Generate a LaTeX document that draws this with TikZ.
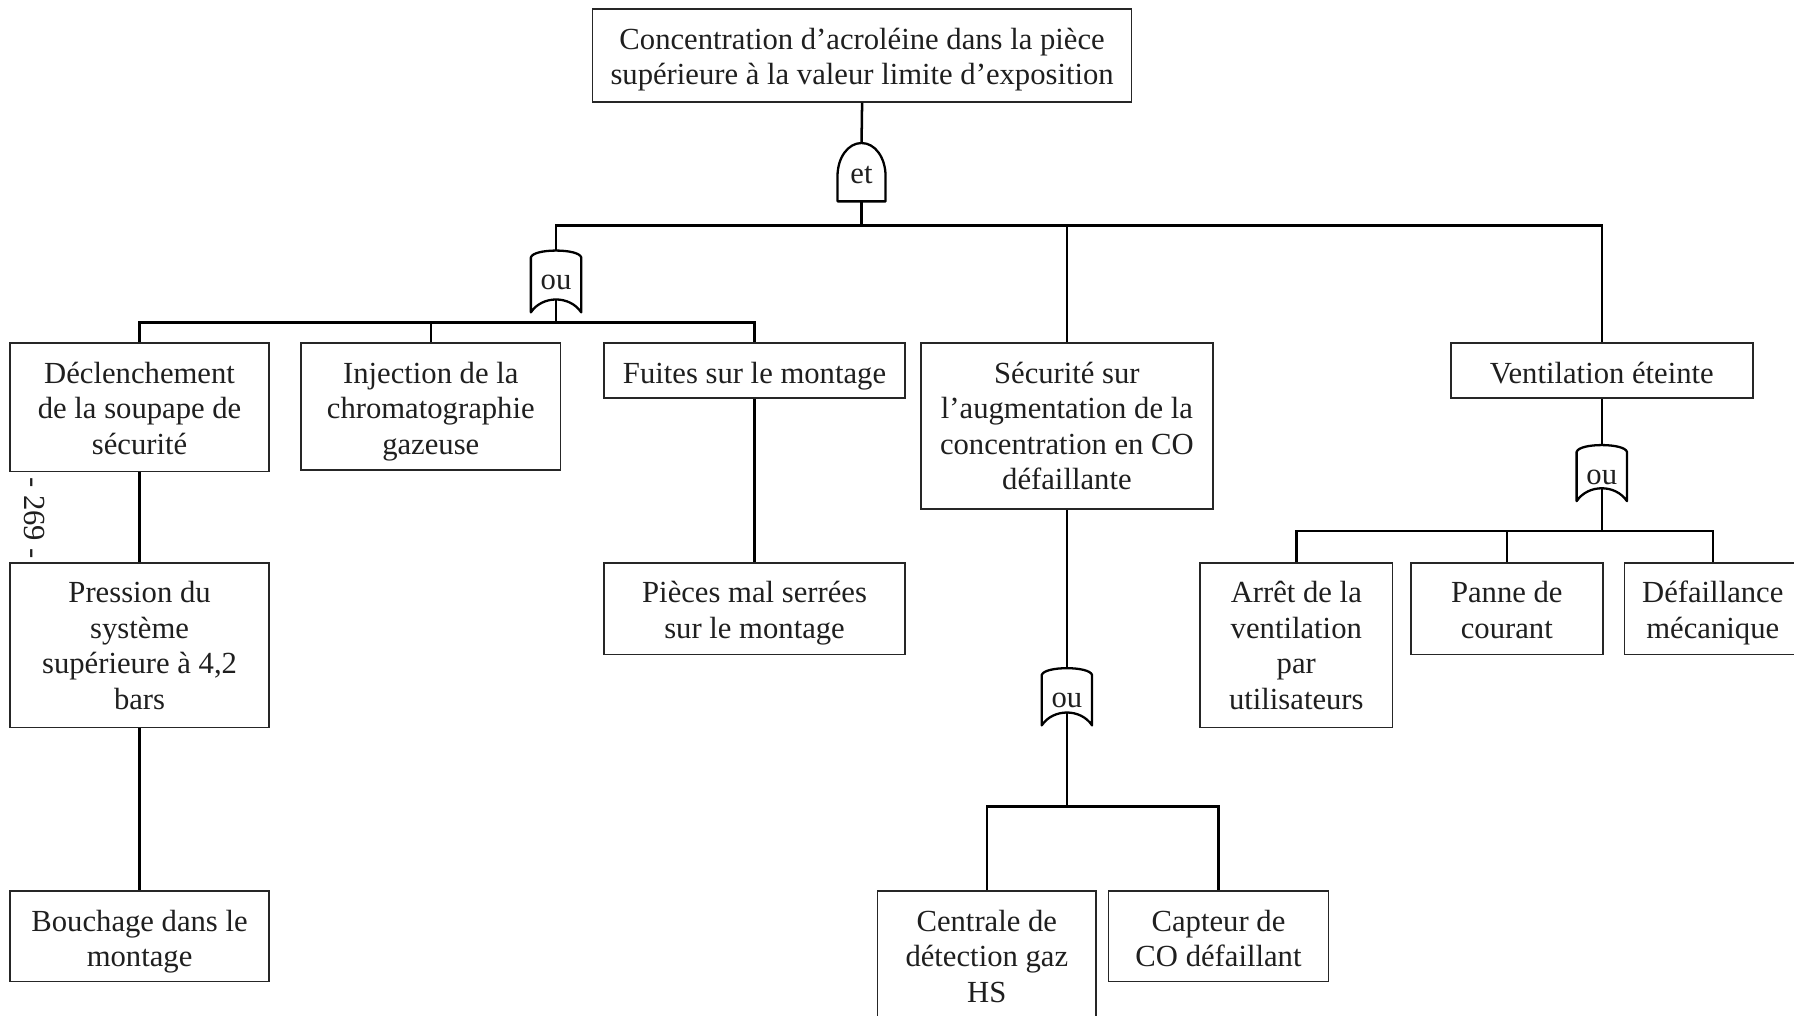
\documentclass[tikz,border=0pt]{standalone}
\usepackage{fontspec}
\setmainfont{Liberation Serif}
\usetikzlibrary{calc}
\tikzset{
  txt/.style={font=\fontsize{13.4}{15.5}\selectfont, text=black!88},
  bx/.style={txt, draw=black!85, line width=0.7pt, inner sep=0pt},
  gatelbl/.style={txt, inner sep=0pt},
  gateline/.style={draw=black, line width=1pt, line join=round},
  conn/.style={draw=black, line width=1.1pt},
}
% box text: width (px), height (px), lines; first baseline 35px below the top
\newcommand\bt[3]{\begin{minipage}[c][\dimexpr #2pt/2\relax][t]{\dimexpr #1pt/2\relax}\centering\rule{0pt}{17.5pt}#3\end{minipage}}
\newcommand\draworgate[2]{%
  \draw[gateline] ($(#1)+(-22,#2)$) -- ($(#1)+(-22,-22)$)
    .. controls ($(#1)+(-20,-30)$) and ($(#1)+(20,-30)$) .. ($(#1)+(22,-22)$)
    -- ($(#1)+(22,#2)$)
    .. controls ($(#1)+(12,#2-15)$) and ($(#1)+(-12,#2-15)$) .. ($(#1)+(-22,#2)$) -- cycle;
  \coordinate (#1-in) at ($(#1)+(0,-28)$);
  \coordinate (#1-out) at ($(#1)+(0,#2-11)$);
}
\newcommand\drawandgate[1]{%
  \draw[gateline] ($(#1)+(-21,23)$) -- ($(#1)+(-21,1)$)
    .. controls ($(#1)+(-21,-15)$) and ($(#1)+(-12,-28)$) .. ($(#1)+(0,-28)$)
    .. controls ($(#1)+(12,-28)$) and ($(#1)+(21,-15)$) .. ($(#1)+(21,1)$)
    -- ($(#1)+(21,23)$) -- cycle;
  \coordinate (#1-in) at ($(#1)+(0,-28)$);
  \coordinate (#1-out) at ($(#1)+(0,23)$);
}
\begin{document}
\begin{tikzpicture}[x=0.5pt,y=-0.5pt]
\useasboundingbox (0,0) rectangle (1568,888);
\clip (0,0) rectangle (1568,888);
\fill[white] (0,0) rectangle (1568,888);

% boxes
\node[bx] (top) at (753.5,48.5) {\bt{471}{81}{Concentration d’acroléine dans la pièce\\supérieure à la valeur limite d’exposition}};
\node[bx] (b1) at (122,356) {\bt{226}{112}{Déclenchement\\de la soupape de\\sécurité}};
\node[bx] (b2) at (376.5,355.5) {\bt{227}{111}{Injection de la\\chromatographie\\gazeuse}};
\node[bx] (b3) at (659.5,324) {\bt{263}{48}{Fuites sur le montage}};
\node[bx] (b4) at (932.5,372.5) {\bt{255}{145}{Sécurité sur\\l’augmentation de la\\concentration en CO\\défaillante}};
\node[bx] (b5) at (1400,324) {\bt{264}{48}{Ventilation éteinte}};
\node[bx] (b6) at (122,564) {\bt{226}{144}{Pression du\\système\\supérieure à 4,2\\bars}};
\node[bx] (b7) at (122,818.5) {\bt{226}{79}{Bouchage dans le\\montage}};
\node[bx] (b8) at (659.5,532) {\bt{263}{80}{Pièces mal serrées\\sur le montage}};
\node[bx] (b9) at (862.5,835) {\bt{191}{112}{Centrale de\\détection gaz\\HS}};
\node[bx] (b10) at (1065,818.5) {\bt{192}{79}{Capteur de\\CO défaillant}};
\node[bx] (b11) at (1133,564) {\bt{168}{144}{Arrêt de la\\ventilation\\par\\utilisateurs}};
\node[bx] (b12) at (1317,532) {\bt{168}{80}{Panne de\\courant}};
\node[bx] (b13) at (1497,532) {\bt{154}{80}{Défaillance\\mécanique}};

% gates
\node[gatelbl] (et) at (753,153) {et};
\drawandgate{et}
\node[gatelbl] (g1) at (486,247) {ou};
\draworgate{g1}{26}
\node[gatelbl] (g2) at (932.5,612) {ou};
\draworgate{g2}{22}
\node[gatelbl] (g3) at (1400,417) {ou};
\draworgate{g3}{21}

% junctions
\coordinate (j1) at (753,197);
\coordinate (j2) at (486,282);
\coordinate (j3) at (932.5,705);
\coordinate (j4) at (1400,464);

% connectors
\draw[conn] (top.south) -- (et-in);
\draw[conn] (et-out) -- (j1);
\draw[conn] (g1-in) |- (j1) -| (b5.north);
\draw[conn] (b4.north) -- (b4.north |- j1);

\draw[conn] (g1-out) -- (j2);
\draw[conn] (b1.north) |- (j2) -| (b3.north);
\draw[conn] (b2.north) -- (b2.north |- j2);

\draw[conn] (b1.south) -- (b6.north);
\draw[conn] (b6.south) -- (b7.north);
\draw[conn] (b3.south) -- (b8.north);

\draw[conn] (b4.south) -- (g2-in);
\draw[conn] (g2-out) -- (j3);
\draw[conn] (b9.north) |- (j3) -| (b10.north);

\draw[conn] (b5.south) -- (g3-in);
\draw[conn] (g3-out) -- (j4);
\draw[conn] (b11.north) |- (j4) -| (b13.north);
\draw[conn] (b12.north) -- (b12.north |- j4);

% page number
\node[txt, rotate=-90, inner sep=0pt] (pg) at (30,453) {- 269 -};
\end{tikzpicture}
\end{document}
